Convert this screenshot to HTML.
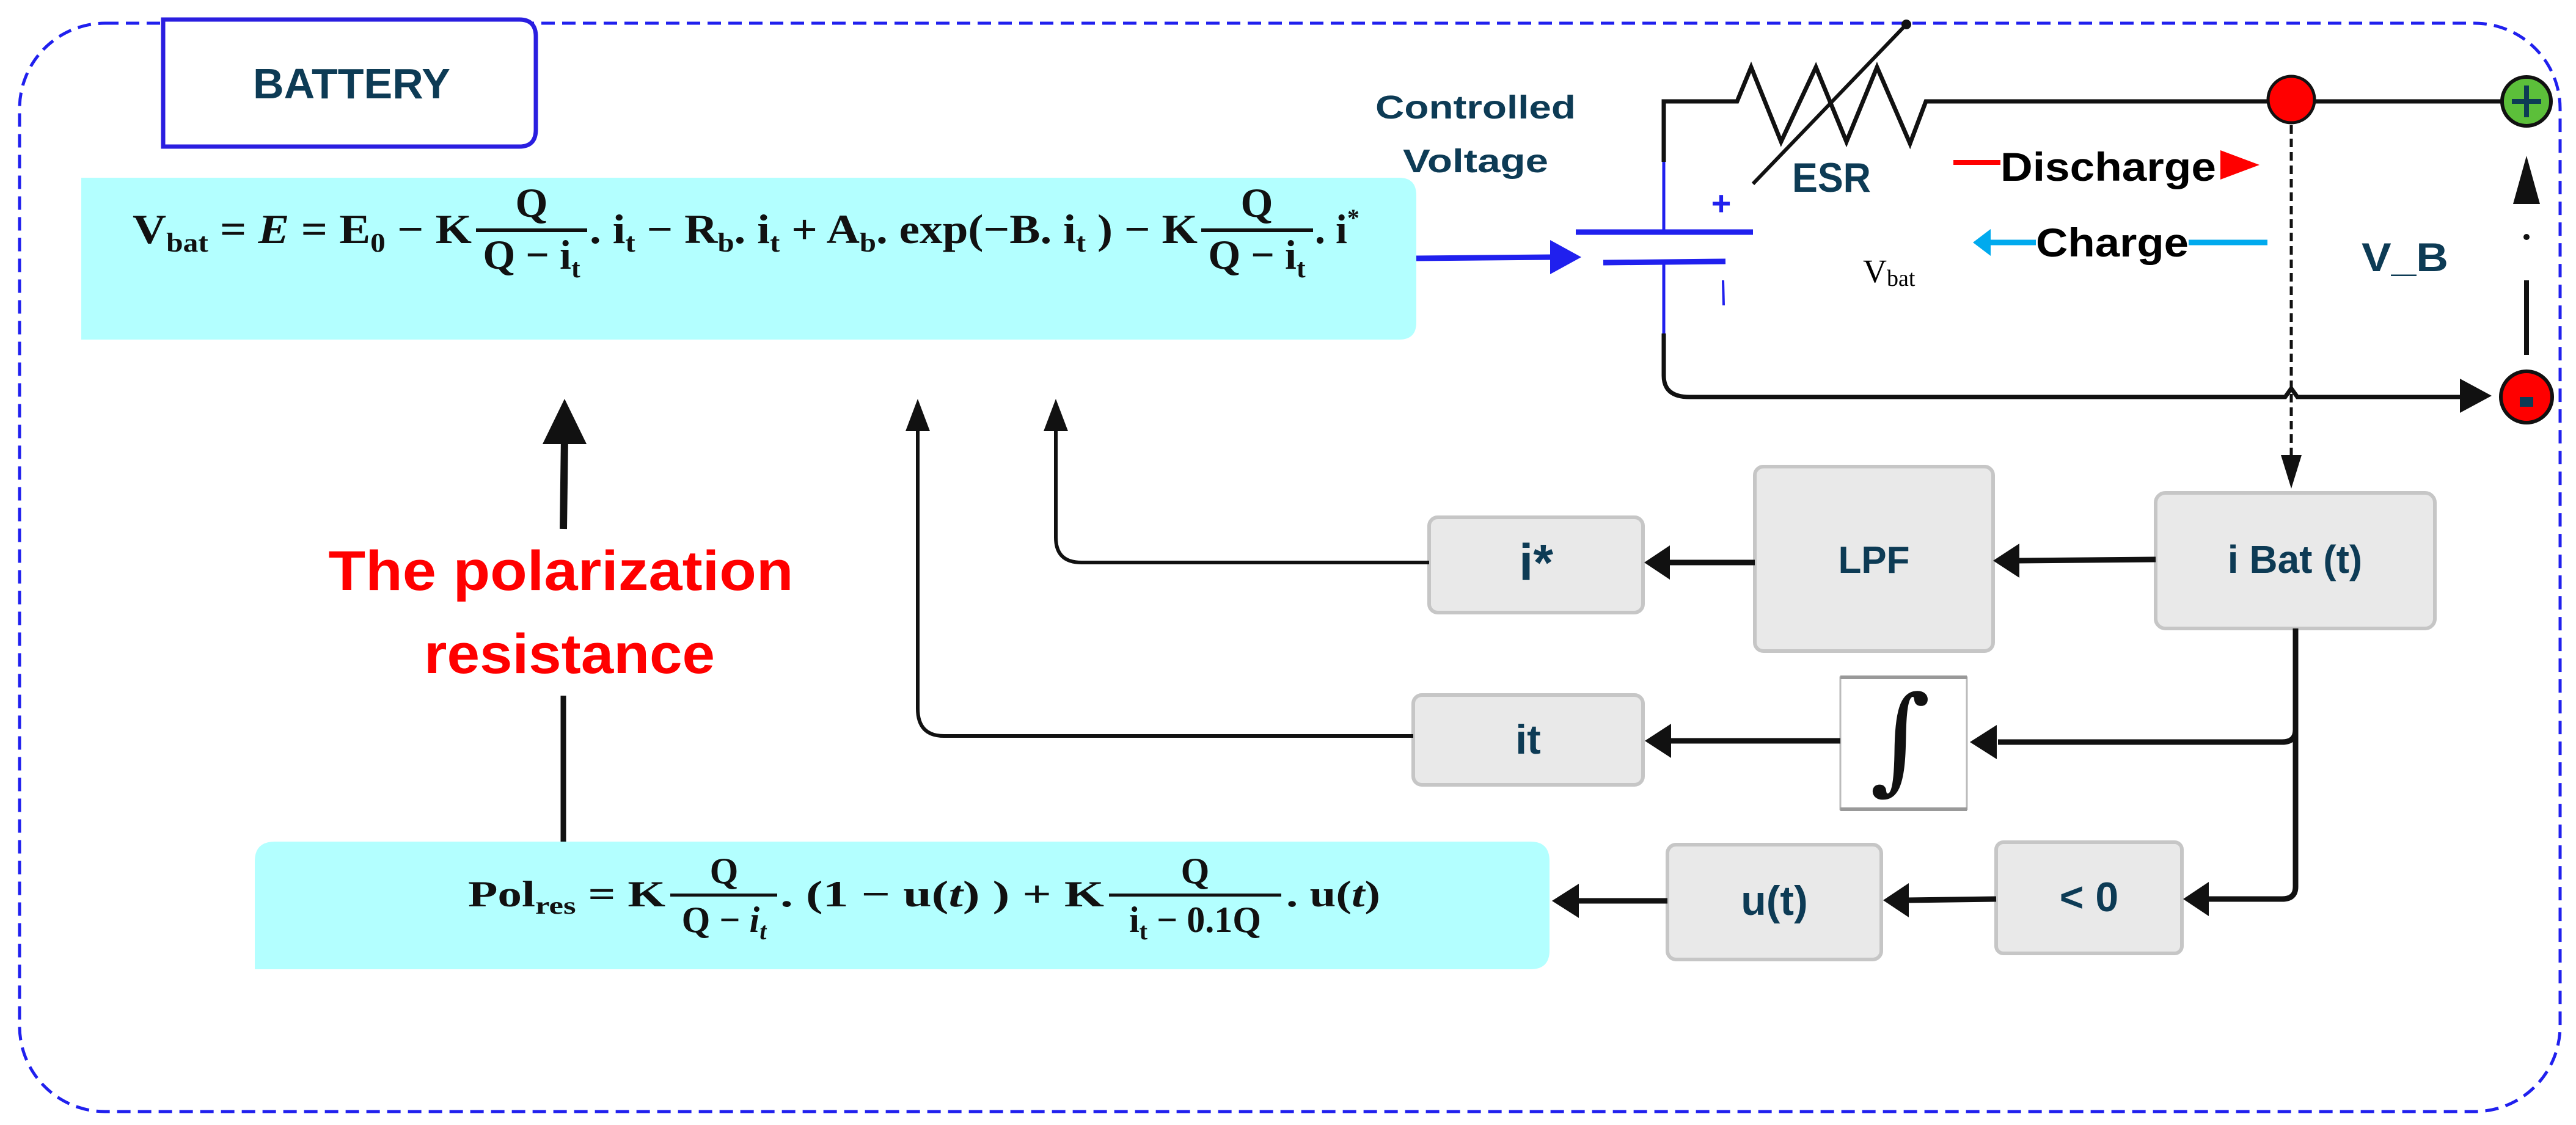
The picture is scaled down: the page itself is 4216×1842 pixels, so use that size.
<!DOCTYPE html>
<html><head><meta charset="utf-8"><style>
html,body{margin:0;padding:0;background:#fff;}
svg{display:block;}
.lbl{font-family:"Liberation Sans",sans-serif;font-weight:bold;fill:#0d3b55;}
.eq{font-family:"Liberation Serif",serif;font-weight:bold;fill:#111;}
</style></head><body>
<svg width="4216" height="1842" viewBox="0 0 4216 1842" xmlns="http://www.w3.org/2000/svg">
<!-- outer dashed border -->
<rect x="32" y="38" width="4158" height="1782" rx="140" fill="none" stroke="#2020ee" stroke-width="5" stroke-dasharray="22 12"/>
<!-- Battery box -->
<path d="M267,32 H850 Q877,32 877,60 V212 Q877,240 850,240 H267 Z" fill="#fff" stroke="#2a1ee0" stroke-width="7"/>
<text x="414" y="161" class="lbl" font-size="70" textLength="323" lengthAdjust="spacingAndGlyphs">BATTERY</text>

<!-- Main equation box -->
<path d="M133,291 H2290 Q2318,291 2318,320 V528 Q2318,556 2290,556 H133 Z" fill="#b3ffff"/>
<g class="eq" font-size="68">
<text x="217" y="398" textLength="555" lengthAdjust="spacingAndGlyphs">V<tspan font-size="44" dy="14">bat</tspan><tspan dy="-14"> = </tspan><tspan font-style="italic">E</tspan> = E<tspan font-size="44" dy="14">0</tspan><tspan dy="-14"> − K</tspan></text>
<text x="870" y="355" text-anchor="middle">Q</text>
<rect x="779" y="374" width="182" height="6" fill="#111"/>
<text x="870" y="440" text-anchor="middle">Q − i<tspan font-size="44" dy="14">t</tspan></text>
<text x="965" y="398" textLength="995" lengthAdjust="spacingAndGlyphs">. i<tspan font-size="44" dy="14">t</tspan><tspan dy="-14"> − R</tspan><tspan font-size="44" dy="14">b</tspan><tspan dy="-14">. i</tspan><tspan font-size="44" dy="14">t</tspan><tspan dy="-14"> + A</tspan><tspan font-size="44" dy="14">b</tspan><tspan dy="-14">. exp(−B. i</tspan><tspan font-size="44" dy="14">t</tspan><tspan dy="-14"> ) − K</tspan></text>
<text x="2057" y="355" text-anchor="middle">Q</text>
<rect x="1966" y="374" width="183" height="6" fill="#111"/>
<text x="2057" y="440" text-anchor="middle">Q − i<tspan font-size="44" dy="14">t</tspan></text>
<text x="2152" y="398">. i<tspan font-size="40" dy="-28">*</tspan></text>
</g>

<!-- Controlled Voltage -->
<text x="2415" y="194" class="lbl" font-size="54" text-anchor="middle" textLength="328" lengthAdjust="spacingAndGlyphs">Controlled</text>
<text x="2415" y="282" class="lbl" font-size="54" text-anchor="middle" textLength="238" lengthAdjust="spacingAndGlyphs">Voltage</text>
<!-- blue arrow -->
<line x1="2318" y1="423" x2="2545" y2="421" stroke="#2020ee" stroke-width="9"/>
<polygon points="2537,393 2588,421 2537,449" fill="#2020ee"/>
<!-- capacitor -->
<line x1="2579" y1="380" x2="2869" y2="380" stroke="#2020ee" stroke-width="9"/>
<line x1="2624" y1="430" x2="2824" y2="428" stroke="#2020ee" stroke-width="9"/>
<line x1="2723" y1="265" x2="2723" y2="380" stroke="#2020ee" stroke-width="5"/>
<line x1="2723" y1="428" x2="2723" y2="546" stroke="#2020ee" stroke-width="5"/>
<text x="2817" y="352" font-family="Liberation Sans,sans-serif" font-size="56" fill="#2020ee" text-anchor="middle" font-weight="bold">+</text>
<line x1="2820" y1="459" x2="2821" y2="500" stroke="#2020ee" stroke-width="4"/>
<!-- wires -->
<path d="M2723,265 V166 H2843 L2866,110 L2915,232 L2972,110 L3022,232 L3072,110 L3126,235 L3152,166 H4095" fill="none" stroke="#111" stroke-width="7" stroke-linejoin="miter"/>
<line x1="2869" y1="301" x2="3118" y2="42" stroke="#111" stroke-width="6"/>
<circle cx="3120" cy="40" r="8" fill="#111"/>
<path d="M2723,546 V615 Q2723,650 2765,650 H3740 L3750,636 L3760,650 H4030" fill="none" stroke="#111" stroke-width="7"/>
<polygon points="4026,620 4078,648 4026,676" fill="#111"/>
<text x="2933" y="314" class="lbl" font-size="68" textLength="129" lengthAdjust="spacingAndGlyphs">ESR</text>
<!-- discharge / charge -->
<line x1="3197" y1="266" x2="3274" y2="266" stroke="#ff0000" stroke-width="8"/>
<text x="3274" y="296" font-family="Liberation Sans,sans-serif" font-weight="bold" font-size="66" fill="#000" textLength="353" lengthAdjust="spacingAndGlyphs">Discharge</text>
<polygon points="3634,246 3698,270 3634,294" fill="#ff0000"/>
<polygon points="3229,397 3258,375 3258,419" fill="#00aaee"/>
<line x1="3250" y1="397" x2="3332" y2="397" stroke="#00aaee" stroke-width="9"/>
<text x="3332" y="420" font-family="Liberation Sans,sans-serif" font-weight="bold" font-size="66" fill="#000" textLength="250" lengthAdjust="spacingAndGlyphs">Charge</text>
<line x1="3582" y1="397" x2="3711" y2="397" stroke="#00aaee" stroke-width="9"/>
<text x="3049" y="462" font-family="Liberation Serif,serif" font-size="54" fill="#000">V<tspan font-size="38" dy="6">bat</tspan></text>
<text x="3865" y="444" class="lbl" font-size="66" textLength="142" lengthAdjust="spacingAndGlyphs">V_B</text>
<!-- dotted vertical -->
<line x1="3750" y1="205" x2="3750" y2="760" stroke="#111" stroke-width="5" stroke-dasharray="14 8"/>
<polygon points="3733,745 3767,745 3750,800" fill="#111"/>
<!-- nodes -->
<circle cx="3750" cy="163" r="38" fill="#ff0000" stroke="#111" stroke-width="5"/>
<circle cx="4135" cy="166" r="40" fill="#5cbf3a" stroke="#111" stroke-width="6"/>
<rect x="4131" y="140" width="8" height="52" fill="#0d3b55"/><rect x="4111" y="162" width="48" height="8" fill="#0d3b55"/>
<circle cx="4135" cy="650" r="42" fill="#ff0000" stroke="#111" stroke-width="6"/>
<rect x="4124" y="650" width="22" height="16" fill="#0d3b55"/>
<!-- V_B arrow -->
<polygon points="4135,255 4113,334 4157,334" fill="#111"/>
<circle cx="4135" cy="388" r="5" fill="#111"/>
<line x1="4135" y1="459" x2="4135" y2="581" stroke="#111" stroke-width="8"/>

<!-- gray boxes -->
<g fill="#e9e9e9" stroke="#c6c6c6" stroke-width="6">
<rect x="3528" y="807" width="457" height="222" rx="16"/>
<rect x="2872" y="764" width="390" height="302" rx="14"/>
<rect x="2339" y="847" width="350" height="156" rx="14"/>
<rect x="2313" y="1138" width="376" height="147" rx="14"/>
<rect x="2729" y="1383" width="350" height="188" rx="14"/>
<rect x="3267" y="1379" width="304" height="182" rx="12"/>
</g>
<rect x="3012" y="1109" width="207" height="216" fill="#fff" stroke="#bbb" stroke-width="3"/>
<line x1="3012" y1="1109" x2="3219" y2="1109" stroke="#999" stroke-width="6"/>
<line x1="3012" y1="1325" x2="3219" y2="1325" stroke="#999" stroke-width="6"/>
<text x="3110" y="1275" font-family="DejaVu Serif,serif" font-size="190" fill="#111" text-anchor="middle">∫</text>
<text x="3756" y="938" class="lbl" font-size="64" text-anchor="middle">i Bat (t)</text>
<text x="3067" y="938" class="lbl" font-size="62" text-anchor="middle">LPF</text>
<text x="2514" y="950" class="lbl" font-size="84" text-anchor="middle">i*</text>
<text x="2501" y="1234" class="lbl" font-size="68" text-anchor="middle">it</text>
<text x="2904" y="1498" class="lbl" font-size="68" text-anchor="middle">u(t)</text>
<text x="3419" y="1492" class="lbl" font-size="68" text-anchor="middle">&lt; 0</text>

<!-- connectors -->
<g stroke="#111" stroke-width="9" fill="none">
<line x1="3528" y1="916" x2="3300" y2="918"/>
<line x1="2872" y1="921" x2="2730" y2="921"/>
<path d="M3757,1029 V1195 Q3757,1215 3735,1215 H3270"/>
<line x1="3012" y1="1213" x2="2730" y2="1213"/>
<path d="M3757,1195 V1452 Q3757,1472 3735,1472 H3610"/>
<line x1="3267" y1="1472" x2="3120" y2="1474"/>
<line x1="2729" y1="1475" x2="2580" y2="1475"/>
</g>
<g fill="#111">
<polygon points="3305,890 3262,918 3305,946"/>
<polygon points="2733,893 2691,921 2733,949"/>
<polygon points="3268,1187 3224,1215 3268,1243"/>
<polygon points="2735,1185 2692,1213 2735,1241"/>
<polygon points="3615,1444 3573,1472 3615,1500"/>
<polygon points="3124,1446 3082,1474 3124,1502"/>
<polygon points="2584,1447 2540,1475 2584,1503"/>
</g>
<g stroke="#111" stroke-width="6" fill="none">
<path d="M2339,921 H1770 Q1728,921 1728,880 V700"/>
<path d="M2313,1205 H1545 Q1502,1205 1502,1160 V700"/>
</g>
<polygon points="1728,653 1708,706 1748,706" fill="#111"/>
<polygon points="1502,653 1482,706 1522,706" fill="#111"/>
<!-- big arrow -->
<line x1="922" y1="866" x2="924" y2="715" stroke="#111" stroke-width="12"/>
<polygon points="924,653 888,727 960,727" fill="#111"/>
<line x1="922" y1="1139" x2="922" y2="1390" stroke="#111" stroke-width="9"/>
<text x="918" y="966" font-family="Liberation Sans,sans-serif" font-weight="bold" font-size="92" fill="#ff0000" text-anchor="middle" textLength="761" lengthAdjust="spacingAndGlyphs">The polarization</text>
<text x="932" y="1102" font-family="Liberation Sans,sans-serif" font-weight="bold" font-size="92" fill="#ff0000" text-anchor="middle" textLength="476" lengthAdjust="spacingAndGlyphs">resistance</text>

<!-- Polres box -->
<path d="M450,1378 H2505 Q2536,1378 2536,1410 V1556 Q2536,1587 2505,1587 H417 V1410 Q417,1378 450,1378 Z" fill="#b3ffff"/>
<g class="eq" font-size="60">
<text x="766" y="1484" textLength="323" lengthAdjust="spacingAndGlyphs">Pol<tspan font-size="40" dy="12">res</tspan><tspan dy="-12"> = K</tspan></text>
<text x="1185" y="1446" text-anchor="middle">Q</text>
<rect x="1097" y="1463" width="175" height="5" fill="#111"/>
<text x="1185" y="1526" text-anchor="middle">Q − <tspan font-style="italic">i</tspan><tspan font-size="40" dy="12" font-style="italic">t</tspan></text>
<text x="1277" y="1484" textLength="530" lengthAdjust="spacingAndGlyphs">. (1 − u(<tspan font-style="italic">t</tspan>) ) +  K</text>
<text x="1956" y="1446" text-anchor="middle">Q</text>
<rect x="1815" y="1463" width="282" height="5" fill="#111"/>
<text x="1956" y="1526" text-anchor="middle">i<tspan font-size="40" dy="12">t</tspan><tspan dy="-12"> − 0.1Q</tspan></text>
<text x="2105" y="1484" textLength="154" lengthAdjust="spacingAndGlyphs">. u(<tspan font-style="italic">t</tspan>)</text>
</g>
</svg>
</body></html>
